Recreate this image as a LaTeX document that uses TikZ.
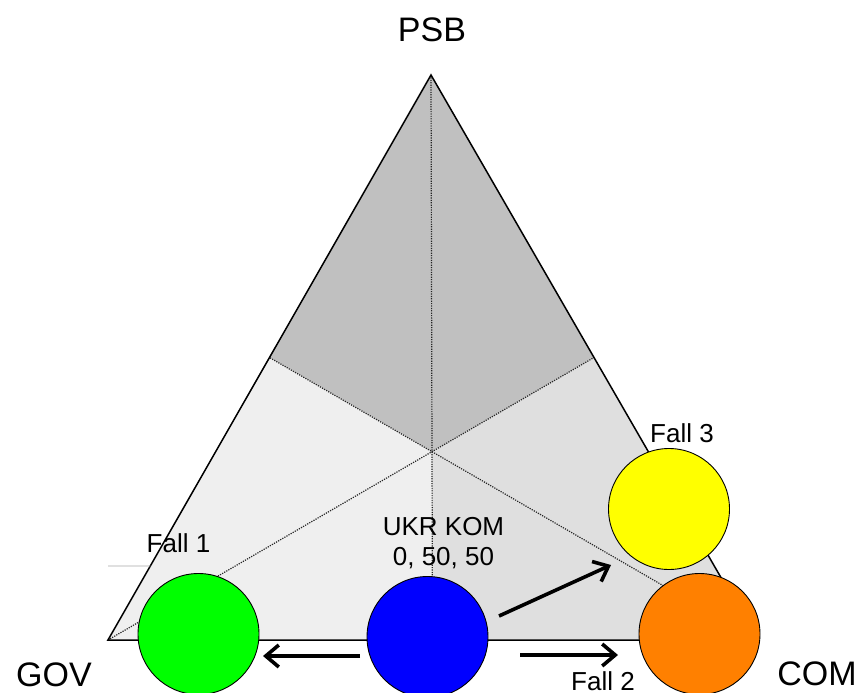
\documentclass[tikz,border=0pt]{standalone}
\usepackage{fontspec}
\setmainfont{Liberation Sans}
\usetikzlibrary{calc,arrows.meta}
\definecolor{topgray}{HTML}{C0C0C0}
\definecolor{leftgray}{HTML}{EFEFEF}
\definecolor{rightgray}{HTML}{DFDFDF}
\definecolor{fallorange}{HTML}{FF8000}
\definecolor{fallyellow}{HTML}{FFFF00}
\tikzset{
  fall/.style={circle,draw=black,line width=0.9pt,minimum size=121pt,inner sep=0pt},
  move/.style={line width=3.6pt,-{Straight Barb[length=13pt,width=22pt]}},
  divider/.style={dash pattern=on 1.2pt off 1.2pt,line width=1.2pt,black!85},
  corner/.style={font=\fontsize{34}{40}\selectfont,anchor=base,inner sep=0pt},
  tag/.style={font=\fontsize{26}{30}\selectfont,anchor=base,inner sep=0pt}
}
\begin{document}
\begin{tikzpicture}[x=1pt,y=-1pt]
\useasboundingbox (0,0) rectangle (860,693);
\coordinate (gov) at (108,640);
\coordinate (com) at (757,640);
\coordinate (psb) at (431,75);
\coordinate (lm) at ($(gov)!0.5!(psb)$);
\coordinate (rm) at ($(com)!0.5!(psb)$);
\coordinate (bm) at ($(gov)!0.5!(com)$);
\coordinate (ctr) at ($(psb)!2/3!(bm)$);
\fill[topgray] (psb) -- (lm) -- (ctr) -- (rm) -- cycle;
\fill[leftgray] (lm) -- (gov) -- (bm) -- (ctr) -- cycle;
\fill[rightgray] (rm) -- (com) -- (bm) -- (ctr) -- cycle;
\draw[divider] (psb) -- (bm);
\draw[divider] (gov) -- (rm);
\draw[divider] (com) -- (lm);
\draw[line width=1.5pt,line join=miter] (gov) -- (psb) -- (com) -- cycle;
\draw[black!35,line width=0.6pt] (108,566) -- ($(gov)!{74/565}!(psb)$);
\node[fall,fill=green] (f1) at (198.5,634) {};
\node[fall,fill=blue] (ukr) at (427.5,637) {};
\node[fall,fill=fallorange] (f2) at (699.5,634) {};
\node[fall,fill=fallyellow] (f3) at (669,509) {};
\coordinate (a1s) at (360,656);
\coordinate (a1e) at (263,656);
\coordinate (a2s) at (520,655);
\coordinate (a2e) at (618,655);
\coordinate (a3s) at (499,616);
\coordinate (a3e) at (611,565);
\draw[move] (a1s) -- (a1e);
\draw[move] (a2s) -- (a2e);
\draw[move] (a3s) -- (a3e);
\node[corner] (lpsb) at (432,41.5) {PSB};
\node[corner] (lgov) at (54,686) {GOV};
\node[corner] (lcom) at (817,685) {COM};
\node[tag] (lf1) at (178.5,552) {Fall 1};
\node[tag] (lf3) at (682,442) {Fall 3};
\node[tag] (lf2) at (603,690) {Fall 2};
\node[tag] (lukr) at (443.5,535) {UKR KOM};
\node[tag] (lukrv) at (443.5,565) {0, 50, 50};
\end{tikzpicture}
\end{document}
